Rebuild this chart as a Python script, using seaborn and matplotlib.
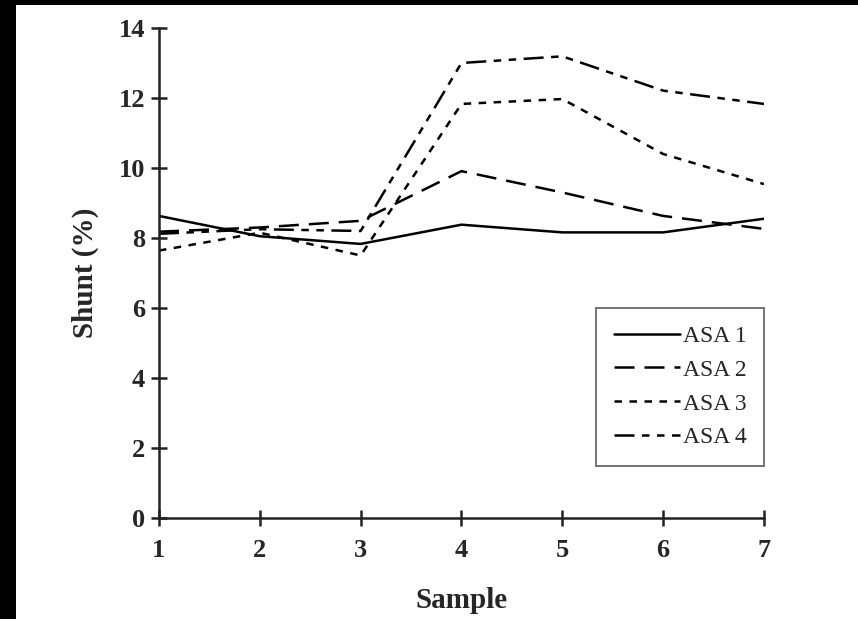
import matplotlib
matplotlib.use("Agg")
import matplotlib.pyplot as plt
from matplotlib.patches import Rectangle
import pandas as pd
import seaborn as sns

samples = [1, 2, 3, 4, 5, 6, 7]
asa1 = [8.63, 8.05, 7.83, 8.38, 8.16, 8.16, 8.55]
asa2 = [8.18, 8.30, 8.49, 9.91, 9.30, 8.63, 8.26]
asa3 = [7.64, 8.15, 7.50, 11.83, 11.97, 10.40, 9.54]
asa4 = [8.12, 8.25, 8.20, 13.00, 13.19, 12.21, 11.83]
groups = ["ASA 1", "ASA 2", "ASA 3", "ASA 4"]

rows = []
for name, vals in zip(groups, [asa1, asa2, asa3, asa4]):
    for s, v in zip(samples, vals):
        rows.append({"Sample": s, "Shunt": v, "group": name})
df = pd.DataFrame(rows)

sns.set_style("ticks")
plt.rcParams['font.family'] = ['Liberation Serif', 'DejaVu Serif']

fig = plt.figure(figsize=(8.58, 6.19), dpi=100)
ax = fig.add_axes([0.1853, 0.1632, 0.7051, 0.7916])

dashes = {
    "ASA 1": "",
    "ASA 2": (8, 4),
    "ASA 3": (3, 3),
    "ASA 4": (8, 3, 3, 3, 3, 3),
}
sns.lineplot(data=df, x="Sample", y="Shunt", style="group", dashes=dashes,
             color="black", linewidth=1.8, ax=ax, legend=True)

ax.set_xlim(1, 7)
ax.set_ylim(0, 14)
ax.set_xticks(samples)
ax.set_yticks(range(0, 15, 2))
for side in ["top", "right"]:
    ax.spines[side].set_visible(False)
for side in ["left", "bottom"]:
    ax.spines[side].set_linewidth(1.8)
    ax.spines[side].set_color("#222222")
ax.tick_params(axis="both", direction="inout", length=12, width=1.8,
               color="#222222", labelsize=19)
ax.tick_params(axis="x", pad=9)
ax.tick_params(axis="y", pad=4)
for lab in ax.get_xticklabels() + ax.get_yticklabels():
    lab.set_fontweight("bold")
ax.set_xlabel("Sample", fontsize=21, fontweight="bold", labelpad=18)
ax.set_ylabel("Shunt (%)", fontsize=21, fontweight="bold", labelpad=14)

handles, labels = ax.get_legend_handles_labels()
leg = ax.legend(handles, labels, loc="lower right", bbox_to_anchor=(1.0, 0.106),
                fontsize=17, handlelength=2.8, handletextpad=0.1,
                frameon=True, fancybox=False, borderpad=0.75, labelspacing=0.52,
                borderaxespad=0)
leg.get_frame().set_edgecolor("#333333")
leg.get_frame().set_linewidth(1.2)
for h in leg.get_lines():
    h.set_color("black")
    h.set_linewidth(1.8)

# scanned page border
fig.patches.append(Rectangle((0, 0), 16 / 858, 1, transform=fig.transFigure,
                             facecolor="black", edgecolor="none"))
fig.patches.append(Rectangle((0, 1 - 5 / 619), 1, 5 / 619, transform=fig.transFigure,
                             facecolor="black", edgecolor="none"))

fig.savefig("out.png", dpi=100)
